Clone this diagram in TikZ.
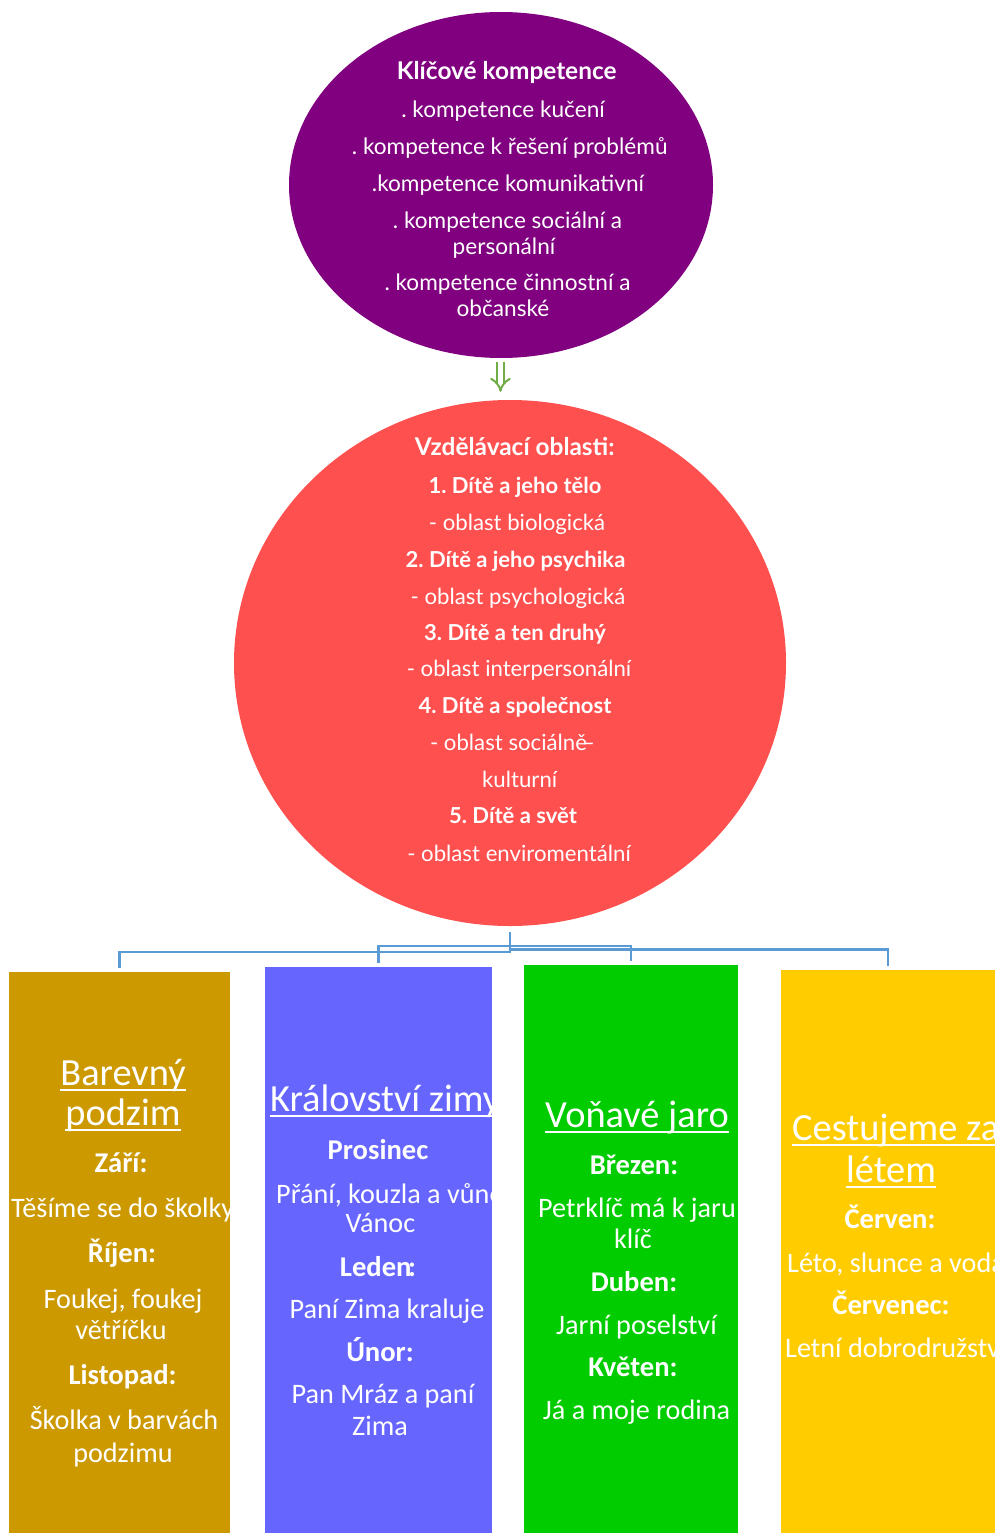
\documentclass[tikz,border=0pt]{standalone}
\usepackage{fontspec}
\setmainfont{Carlito}
\newfontfamily\lato{Lato}
\usetikzlibrary{shapes.geometric,arrows.meta}
\definecolor{kkpurple}{HTML}{800080}
\definecolor{vored}{HTML}{FF5050}
\definecolor{boxa}{HTML}{CC9900}
\definecolor{boxb}{HTML}{6666FF}
\definecolor{boxc}{HTML}{00CC00}
\definecolor{boxd}{HTML}{FFCC00}
\definecolor{connc}{HTML}{5B9BD5}
\definecolor{arrc}{HTML}{70AD47}
\tikzset{
  bt/.style={text=white, inner sep=0, anchor=base, font=\frenchspacing\fontsize{28.2}{32}\selectfont},
  btw/.style={bt, anchor=base west},
  bb/.style={text=white, inner sep=0, anchor=base, font=\frenchspacing\fontsize{28.6}{32}\selectfont\bfseries},
  ttl/.style={text=white, inner sep=0, anchor=base, font=\fontsize{38.4}{42}\selectfont},
  ttlw/.style={ttl, anchor=base west},
  lr/.style={text=white, inner sep=0, anchor=base, font=\frenchspacing\lato\fontsize{22.2}{26}\selectfont},
  lb/.style={text=white, inner sep=0, anchor=base, font=\frenchspacing\lato\fontsize{22}{26}\selectfont\bfseries},
  lbt/.style={lb, font=\frenchspacing\lato\fontsize{24.4}{28}\selectfont\bfseries},
  pr/.style={lr, font=\frenchspacing\lato\fontsize{22.6}{26}\selectfont},
  colbox/.style={rectangle, inner sep=0, draw=none},
  conn/.style={draw=connc, line width=2.4pt},
  uline/.style={draw=white, line width=2pt},
}
\begin{document}
\begin{tikzpicture}[x=1pt,y=-1pt]
\useasboundingbox[fill=white] (0,0) rectangle (1000,1533);

% ellipses
\node[ellipse, fill=kkpurple, minimum width=424pt, minimum height=346pt, inner sep=0] (kk) at (501,185) {};
\node[ellipse, fill=vored, minimum width=552pt, minimum height=526pt, inner sep=0] (vo) at (510,663) {};

\foreach \s/\x/\y/\t [count=\i] in {
  lbt/506.7/80/{Klíčové kompetence},
  pr/503/118/{. kompetence kučení},
  pr/509.7/155/{. kompetence k řešení problémů},
  pr/508/192/{.kompetence komunikativní},
  pr/507.5/228/{. kompetence sociální a},
  pr/504/254/{personální},
  pr/507.5/290/{. kompetence činnostní a},
  pr/503/316/{občanské}}
  \node[\s] (kt\i) at (\x,\y) {\t};

\foreach \s/\x/\y/\t [count=\i] in {
  lbt/514.7/455/{Vzdělávací oblasti:},
  lb/515/493/{1. Dítě a jeho tělo},
  lr/517/530/{- oblast biologická},
  lb/515.5/567/{2. Dítě a jeho psychika},
  lr/518/604/{- oblast psychologická},
  lb/515/640/{3. Dítě a ten druhý},
  lr/519/676/{- oblast interpersonální},
  lb/515/713/{4. Dítě a společnost},
  lr/512.5/750/{- oblast sociálně\kern-0.22em–},
  lr/519.7/787/{kulturní},
  lb/513/823/{5. Dítě a svět},
  lr/519/861/{- oblast enviromentální}}
  \node[\s] (vt\i) at (\x,\y) {\t};

% arrow
\coordinate (as) at ([shift={(-0.5,4)}]kk.south);
\coordinate (vtop) at ([yshift=8pt]vo.north);
\coordinate (ae) at (as |- vtop);
\draw[arrc, line width=2pt, double=white, double distance=5pt, -{Implies[scale=1.9]}]
  (as) -- (ae);

% boxes
\node[colbox, fill=boxa, minimum width=221pt, minimum height=561pt] (b1) at (119.5,1252.5) {};
\node[colbox, fill=boxb, minimum width=227pt, minimum height=566pt] (b2) at (378.5,1250) {};
\node[colbox, fill=boxc, minimum width=214pt, minimum height=568pt] (b3) at (631,1249) {};
\node[colbox, fill=boxd, minimum width=214pt, minimum height=563pt] (b4) at (888,1251.5) {};

% connectors
\coordinate (hub) at ([yshift=-6pt]vo.south);
\draw[conn] (hub) -- (510,951.7) -| ([yshift=4pt]b1.north);
\draw[conn] (510,945.7) -| ([yshift=4.3pt]b2.north);
\draw[conn] (510,945.7) -| ([yshift=4pt]b3.north);
\draw[conn] (510,949.3) -| ([yshift=4.3pt]b4.north);

% box 1
\begin{scope}
\clip (b1.south west) rectangle (b1.north east);
\node[ttl] (t1a) at (123,1085) {Barevný};
\node[ttl] (t1b) at (123,1125) {podzim};
\draw[uline] ([yshift=-5pt]t1a.base west) -- ([yshift=-5pt]t1a.base east);
\draw[uline] ([yshift=-5pt]t1b.base west) -- ([yshift=-5pt]t1b.base east);
\foreach \s/\x/\y/\t [count=\i] in {
  bb/121/1172/{Září:},
  btw/11/1217/{Těšíme se do školky},
  bb/122/1262/{Říjen:},
  bt/123/1308/{Foukej, foukej},
  bt/121/1339/{větříčku},
  bb/122.5/1384/{Listopad:},
  bt/124/1429/{Školka v barvách},
  bt/123/1462/{podzimu}}
  \node[\s] (a\i) at (\x,\y) {\t};
\end{scope}

% box 2
\begin{scope}
\clip (b2.south west) rectangle (b2.north east);
\node[ttlw] (t2a) at (270,1111) {Království zimy};
\draw[uline] ([yshift=-5pt]t2a.base west) -- ([yshift=-5pt]t2a.base east);
\foreach \s/\x/\y/\t [count=\i] in {
  bb/378/1159/{Prosinec},
  btw/276/1203/{Přání, kouzla a vůně},
  bt/380.5/1232/{Vánoc},
  bb/378/1276/{Leden\kern-0.12em:},
  bt/387/1318/{Paní Zima kraluje},
  bb/380/1361/{Únor:},
  bt/383/1403/{Pan Mráz a paní},
  bt/380/1435/{Zima}}
  \node[\s] (c\i) at (\x,\y) {\t};
\end{scope}

% box 3
\begin{scope}
\clip (b3.south west) rectangle (b3.north east);
\node[ttl] (t3a) at (637,1127) {Voňavé jaro};
\draw[uline] ([yshift=-5pt]t3a.base west) -- ([yshift=-5pt]t3a.base east);
\foreach \s/\x/\y/\t [count=\i] in {
  bb/634/1174/{Březen:},
  bt/637/1217/{Petrklíč má k jaru},
  bt/633/1248/{klíč},
  bb/634/1291/{Duben:},
  bt/636.5/1334/{Jarní poselství},
  bb/633/1376/{Květen:},
  bt/636.5/1419/{Já a moje rodina}}
  \node[\s] (d\i) at (\x,\y) {\t};
\end{scope}

% box 4
\begin{scope}
\clip (b4.south west) rectangle (b4.north east);
\node[ttlw] (t4a) at (792,1140) {Cestujeme za};
\node[ttl] (t4b) at (891,1182) {létem};
\draw[uline] ([yshift=-5pt]t4a.base west) -- ([yshift=-5pt]t4a.base east);
\draw[uline] ([yshift=-5pt]t4b.base west) -- ([yshift=-5pt]t4b.base east);
\foreach \s/\x/\y/\t [count=\i] in {
  bb/890/1228/{Červen:},
  btw/787/1272/{Léto, slunce a voda},
  bb/891/1314/{Červenec:},
  btw/785/1357/{Letní dobrodružství}}
  \node[\s] (e\i) at (\x,\y) {\t};
\end{scope}
\end{tikzpicture}
\end{document}
